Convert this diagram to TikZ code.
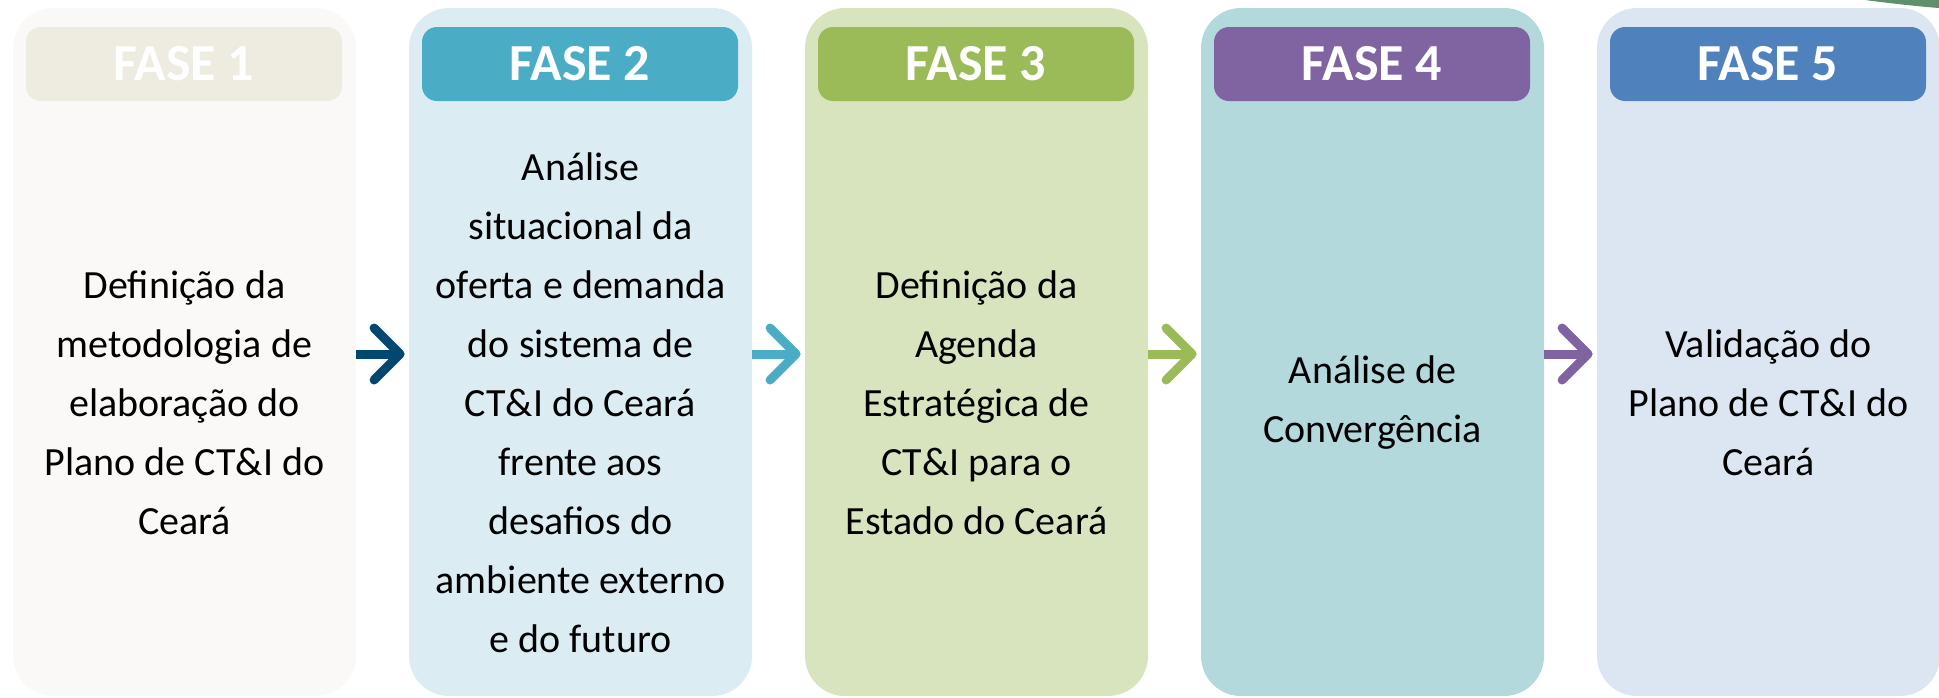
\documentclass[tikz,border=0pt]{standalone}
\usepackage{fontspec}
\setmainfont{Carlito}
\usetikzlibrary{arrows.meta}
\definecolor{bodyA}{HTML}{FAF9F7}
\definecolor{headA}{HTML}{EEEBE1}
\definecolor{bodyB}{HTML}{DBEDF3}
\definecolor{headB}{HTML}{4BACC6}
\definecolor{bodyC}{HTML}{D8E4BD}
\definecolor{headC}{HTML}{9BBB59}
\definecolor{bodyD}{HTML}{B4D9DC}
\definecolor{headD}{HTML}{8064A2}
\definecolor{bodyE}{HTML}{DCE6F2}
\definecolor{headE}{HTML}{4F81BD}
\definecolor{arrA}{HTML}{004870}
\definecolor{leafgreen}{HTML}{5F8F6B}
\tikzset{
  phasebox/.style={rounded corners=20pt, minimum width=171.5pt, minimum height=344pt, inner sep=0pt, draw=none},
  phasehead/.style={rounded corners=7.5pt, minimum width=158pt, minimum height=37pt, inner sep=0pt, draw=none,
    text=white, font=\fontsize{26}{30}\selectfont\bfseries},
  phasetext/.style={align=center, inner sep=0pt, font=\fontsize{20}{29.5}\selectfont},
  flow/.style={line width=4.5pt, -{Straight Barb[round, length=13pt, width=26pt]}, shorten >=2pt}
}
\begin{document}
\begin{tikzpicture}[x=0.5pt, y=-0.5pt]
\useasboundingbox (0,0) rectangle (1939,697);
% decorative leaf edge top right
\fill[leafgreen] (1865,0) .. controls (1895,4) and (1925,7) .. (1939,8) -- (1939,0) -- cycle;
% boxes
\node[phasebox, fill=bodyA] (box1) at (184.5,352) {};
\node[phasebox, fill=bodyB] (box2) at (580.5,352) {};
\node[phasebox, fill=bodyC] (box3) at (976.5,352) {};
\node[phasebox, fill=bodyD] (box4) at (1372.5,352) {};
\node[phasebox, fill=bodyE] (box5) at (1768.5,352) {};
% headers
\node[phasehead, fill=headA] (head1) at (184,64) {FASE 1};
\node[phasehead, fill=headB] (head2) at (580,64) {FASE 2};
\node[phasehead, fill=headC] (head3) at (976,64) {FASE 3};
\node[phasehead, fill=headD] (head4) at (1372,64) {FASE 4};
\node[phasehead, fill=headE] (head5) at (1768,64) {FASE 5};
% texts
\node[phasetext] (txt1) at (184.5,403) {Definição da\\metodologia de\\elaboração do\\Plano de CT\&I do\\Ceará};
\node[phasetext] (txt2) at (580.5,403) {Análise\\situacional da\\oferta e demanda\\do sistema de\\CT\&I do Ceará\\frente aos\\desafios do\\ambiente externo\\e do futuro};
\node[phasetext] (txt3) at (976.5,403) {Definição da\\Agenda\\Estratégica de\\CT\&I para o\\Estado do Ceará};
\node[phasetext] (txt4) at (1372.5,403) {Análise de\\Convergência};
\node[phasetext] (txt5) at (1768.5,403) {Validação do\\Plano de CT\&I do\\Ceará};
% arrows
\draw[flow, arrA] ([yshift=-1pt]box1.east) -- ([yshift=-1pt]box2.west);
\draw[flow, headB] ([yshift=-1pt]box2.east) -- ([yshift=-1pt]box3.west);
\draw[flow, headC] ([yshift=-1pt]box3.east) -- ([yshift=-1pt]box4.west);
\draw[flow, headD] ([yshift=-1pt]box4.east) -- ([yshift=-1pt]box5.west);
\end{tikzpicture}
\end{document}
